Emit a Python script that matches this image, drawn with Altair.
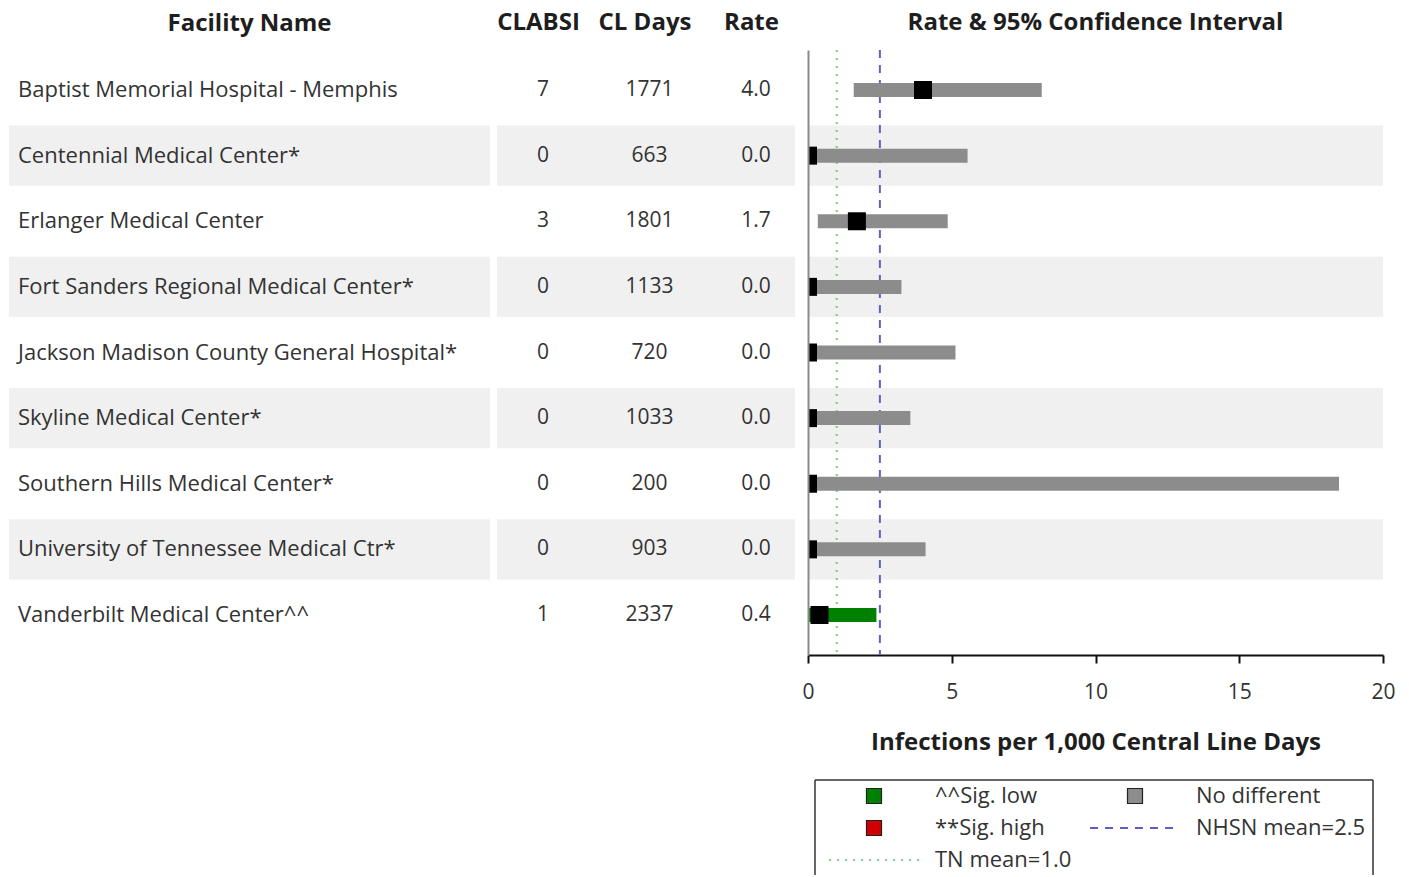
import altair as alt
import pandas as pd

# ---- data ---------------------------------------------------------------
facilities = [
    "Baptist Memorial Hospital - Memphis",
    "Centennial Medical Center*",
    "Erlanger Medical Center",
    "Fort Sanders Regional Medical Center*",
    "Jackson Madison County General Hospital*",
    "Skyline Medical Center*",
    "Southern Hills Medical Center*",
    "University of Tennessee Medical Ctr*",
    "Vanderbilt Medical Center^^",
]
clabsi = [7, 0, 3, 0, 0, 0, 0, 0, 1]
cl_days = [1771, 663, 1801, 1133, 720, 1033, 200, 903, 2337]
rates = [4.0, 0.0, 1.7, 0.0, 0.0, 0.0, 0.0, 0.0, 0.4]
ci_low = [1.59, 0.0, 0.34, 0.0, 0.0, 0.0, 0.0, 0.0, 0.01]
ci_high = [8.13, 5.55, 4.86, 3.25, 5.13, 3.56, 18.47, 4.09, 2.38]
status = ["No different"] * 8 + ["^^Sig. low"]

tn_mean = 1.0
nhsn_mean = 2.5

table_columns = ["CLABSI", "CL Days", "Rate"]

legend_labels = ["^^Sig. low", "No different", "**Sig. high", "NHSN mean=2.5", "TN mean=1.0"]
legend_kind = ["square", "square", "square", "dashed", "dotted"]
legend_col = [0, 1, 0, 1, 0]
legend_row = [0, 0, 1, 1, 2]

status_domain = ["^^Sig. low", "**Sig. high", "No different"]
status_colors = ["#008000", "#d00000", "#8c8c8c"]

# ---- layout constants ---------------------------------------------------
FONT = "Open Sans"
ROW_H = 605
NAME_W = 481
NUM_W = 304
NUM_SHADE_W = 298
PLOT_W = 575
LEG_H = 95
BOX_L = 7
BOX_R = 565
SHADE = "#f0f0f0"
TEXT = "#333333"
HEAD = "#1e1e1e"
TN_COLOR = "#86cc86"
NHSN_COLOR = "#6060c4"

df = pd.DataFrame({
    "facility": facilities,
    "rate": rates,
    "low": ci_low,
    "high": ci_high,
    "status": status,
})
df["shade"] = [i % 2 == 1 for i in range(len(facilities))]
shaded = df[df["shade"]]

y_scale = alt.Scale(domain=facilities, paddingInner=0.08, paddingOuter=0.15)
y_plain = alt.Y("facility:N", scale=y_scale, axis=None)


def header(text):
    return alt.TitleParams(
        text=text, font=FONT, fontSize=24, fontWeight="bold", color=HEAD,
        anchor="middle", baseline="bottom", offset=-10,
    )


# ---- facility name column -----------------------------------------------
name_bg = alt.Chart(shaded).mark_rect(color=SHADE).encode(
    y=y_plain, x=alt.value(0), x2=alt.value(NAME_W)
)
name_txt = alt.Chart(df).mark_text(
    align="left", baseline="middle", font=FONT, fontSize=22, color=TEXT
).encode(y=y_plain, x=alt.value(9), text="facility:N")
name_panel = alt.layer(name_bg, name_txt).properties(
    width=NAME_W, height=ROW_H, title=header("Facility Name")
)

# ---- numeric columns ----------------------------------------------------
num_long = pd.DataFrame({
    "facility": facilities * 3,
    "column": [c for c in table_columns for _ in facilities],
    "value": [str(v) for v in clabsi]
    + [str(v) for v in cl_days]
    + [f"{v:.1f}" for v in rates],
})
x_cols = alt.X(
    "column:N", sort=table_columns,
    scale=alt.Scale(type="point", range=[41, 254], padding=0),
    axis=alt.Axis(
        orient="top", title=None, domain=False, ticks=False, tickSize=0,
        labelFont=FONT, labelFontSize=24, labelFontWeight="bold", labelColor=HEAD,
        labelPadding=21, labelBaseline="alphabetic", labelAngle=0,
    ),
)
num_bg = alt.Chart(shaded).mark_rect(color=SHADE).encode(
    y=y_plain, x=alt.value(0), x2=alt.value(NUM_SHADE_W)
)
num_txt = alt.Chart(num_long).mark_text(
    align="center", baseline="middle", dx=5, font=FONT, fontSize=21, color=TEXT
).encode(y=y_plain, x=x_cols, text="value:N")
num_panel = alt.layer(num_bg, num_txt).properties(width=NUM_W, height=ROW_H)

# ---- rate and confidence interval plot ----------------------------------
x_scale = alt.Scale(domain=[0, 20], nice=False, zero=True)
x_axis = alt.Axis(
    values=[0, 5, 10, 15, 20], grid=False, labelFlush=False,
    domainColor="#111111", domainWidth=2, tickColor="#111111", tickWidth=2, tickSize=8,
    labelFont=FONT, labelFontSize=21, labelColor=TEXT, labelPadding=18,
    title="Infections per 1,000 Central Line Days", titleFont=FONT, titleFontSize=24,
    titleFontWeight="bold", titleColor=HEAD, titlePadding=28,
)
y_axis = alt.Y(
    "facility:N", scale=y_scale,
    axis=alt.Axis(labels=False, ticks=False, title=None, grid=False,
                  domainColor="#8a8a8a", domainWidth=2),
)

plot_bg = alt.Chart(shaded).mark_rect(color=SHADE).encode(
    y=y_axis, x=alt.value(0), x2=alt.value(PLOT_W)
)
tn_rule = alt.Chart(pd.DataFrame({"value": [tn_mean]})).mark_rule(
    color=TN_COLOR, strokeDash=[2, 6], strokeWidth=2.2
).encode(x=alt.X("value:Q", scale=x_scale, axis=x_axis))
nhsn_rule = alt.Chart(pd.DataFrame({"value": [nhsn_mean]})).mark_rule(
    color=NHSN_COLOR, strokeDash=[8, 7], strokeWidth=2
).encode(x=alt.X("value:Q", scale=x_scale, axis=x_axis))
ci_bars = alt.Chart(df).mark_bar(size=14).encode(
    y=y_axis,
    x=alt.X("low:Q", scale=x_scale, axis=x_axis),
    x2="high:Q",
    color=alt.Color("status:N", scale=alt.Scale(domain=status_domain, range=status_colors),
                    legend=None),
)
points = alt.Chart(df).mark_square(size=324, color="#000000", opacity=1, clip=True).encode(
    y=y_axis, x=alt.X("rate:Q", scale=x_scale, axis=x_axis)
)
plot_panel = alt.layer(plot_bg, tn_rule, nhsn_rule, ci_bars, points).properties(
    width=PLOT_W, height=ROW_H, title=header("Rate & 95% Confidence Interval")
)

# ---- key ----------------------------------------------------------------
leg = pd.DataFrame({
    "label": legend_labels, "kind": legend_kind,
    "col": legend_col, "row": legend_row,
})
lx = alt.X("col:O", scale=alt.Scale(type="point", range=[66, 327], padding=0), axis=None)
ly = alt.Y("row:O", scale=alt.Scale(type="point", range=[16, 80], padding=0), axis=None)

leg_sq = alt.Chart(leg).transform_filter(alt.datum.kind == "square").mark_square(
    size=225, stroke="#222222", strokeWidth=1.2, opacity=1
).encode(
    x=lx, y=ly,
    fill=alt.Fill("label:N", scale=alt.Scale(domain=status_domain, range=status_colors),
                  legend=None),
)
leg_dash = alt.Chart(leg).transform_filter(alt.datum.kind == "dashed").mark_rule(
    color=NHSN_COLOR, strokeDash=[8, 7], strokeWidth=2, xOffset=-45, x2Offset=45
).encode(x=lx, x2="col:O", y=ly)
leg_dot = alt.Chart(leg).transform_filter(alt.datum.kind == "dotted").mark_rule(
    color=TN_COLOR, strokeDash=[2, 6], strokeWidth=2.2, xOffset=-45, x2Offset=45
).encode(x=lx, x2="col:O", y=ly)
leg_txt = alt.Chart(leg).mark_text(
    align="left", baseline="middle", dx=61, font=FONT, fontSize=22, color=TEXT
).encode(x=lx, y=ly, text="label:N")

frame = pd.DataFrame({"edge": ["box"]})
box_top = alt.Chart(frame).mark_rule(color="#333333", strokeWidth=1.5).encode(
    x=alt.value(BOX_L), x2=alt.value(BOX_R), y=alt.value(0)
)
box_left = alt.Chart(frame).mark_rule(color="#333333", strokeWidth=1.5).encode(
    x=alt.value(BOX_L), y=alt.value(0), y2=alt.value(LEG_H)
)
box_right = alt.Chart(frame).mark_rule(color="#333333", strokeWidth=1.5).encode(
    x=alt.value(BOX_R), y=alt.value(0), y2=alt.value(LEG_H)
)
legend_panel = alt.layer(
    box_top, box_left, box_right, leg_sq, leg_dash, leg_dot, leg_txt
).properties(width=PLOT_W, height=LEG_H)


def blank(w):
    return alt.Chart(pd.DataFrame({"t": [""]})).mark_text().encode(
        text="t:N"
    ).properties(width=w, height=LEG_H)


chart = alt.concat(
    name_panel, num_panel, plot_panel,
    blank(NAME_W), blank(NUM_W), legend_panel,
    columns=3,
    spacing=alt.RowColnumber(row=125, column=7),
    bounds="flush",
).configure(
    font=FONT,
    padding={"left": 9, "top": 10, "right": 5, "bottom": 0},
    background="white",
).configure_view(
    stroke="transparent", strokeWidth=0
)

chart.save("out.html", embed_options={"renderer": "svg", "actions": False})
